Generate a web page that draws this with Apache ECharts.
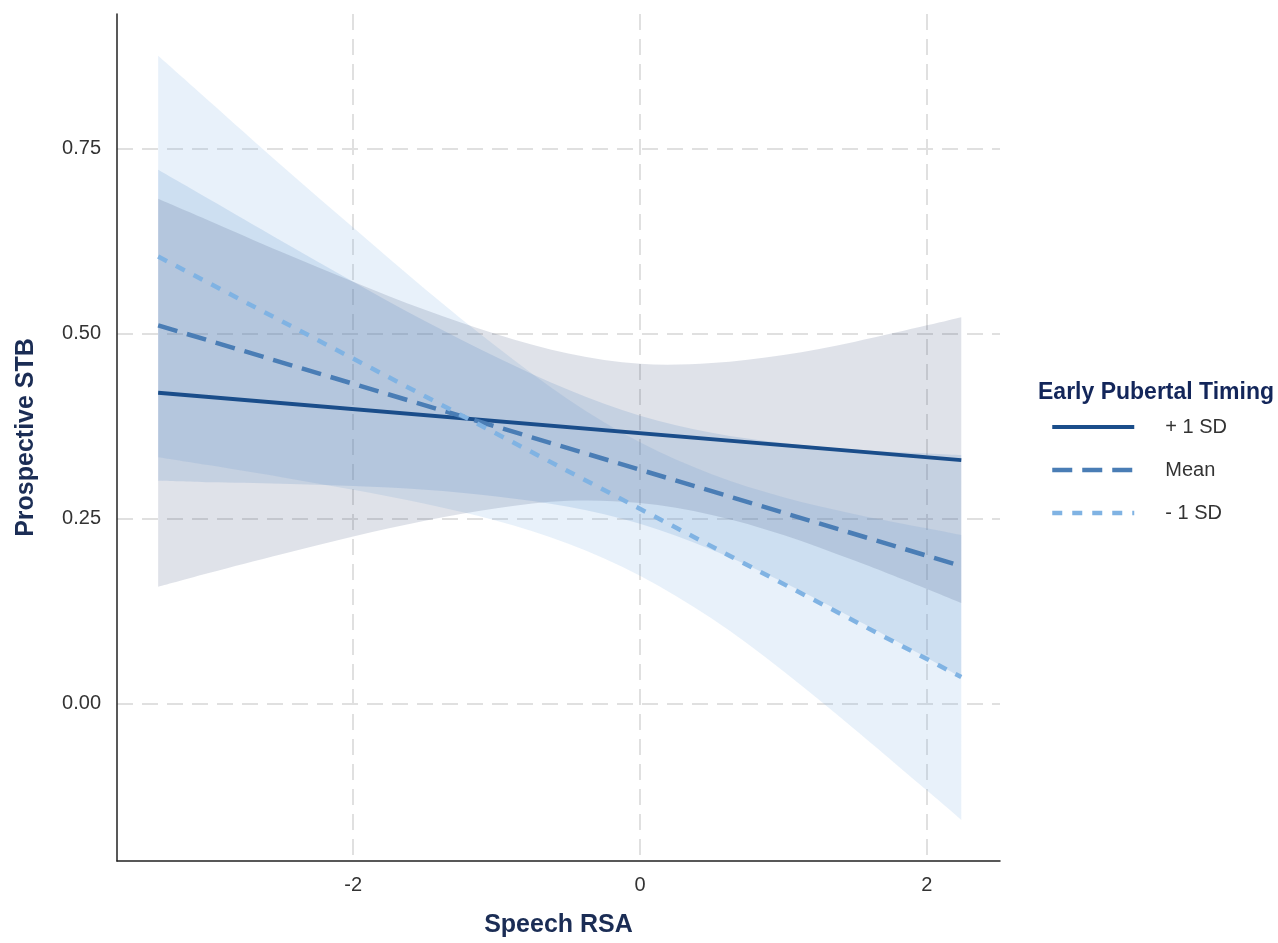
<!DOCTYPE html>
<html>
<head>
<meta charset="utf-8">
<title>Prospective STB by Speech RSA</title>
<script src="https://cdn.jsdelivr.net/npm/echarts@6/dist/echarts.min.js"></script>
<style>
  html, body { margin: 0; padding: 0; background: #ffffff; }
  #chart { width: 1278px; height: 943px; }
</style>
</head>
<body>
<div id="chart"></div>
<script>
// Speech RSA values at which the confidence bands are traced
const bandX = [-3.36, -3.0, -2.5, -2.0, -1.5, -1.0, -0.5, 0, 0.5, 1.0, 1.5, 2.0, 2.24];

// Confidence band for early pubertal timing +1 SD
const plusLower = [0.158, 0.177, 0.202, 0.226, 0.247, 0.264, 0.274, 0.271, 0.255, 0.228, 0.193, 0.155, 0.136];
const plusUpper = [0.682, 0.652, 0.610, 0.570, 0.532, 0.499, 0.473, 0.459, 0.460, 0.471, 0.489, 0.511, 0.522];

// Confidence band at the mean
const meanLower = [0.301, 0.299, 0.297, 0.294, 0.289, 0.280, 0.266, 0.243, 0.208, 0.164, 0.114, 0.062, 0.035];
const meanUpper = [0.721, 0.681, 0.625, 0.570, 0.517, 0.468, 0.424, 0.389, 0.366, 0.352, 0.343, 0.338, 0.336];

// Confidence band for -1 SD
const minusLower = [0.333, 0.322, 0.306, 0.289, 0.270, 0.247, 0.216, 0.173, 0.115, 0.044, -0.035, -0.117, -0.157];
const minusUpper = [0.875, 0.813, 0.727, 0.643, 0.560, 0.482, 0.411, 0.353, 0.310, 0.279, 0.256, 0.237, 0.228];

// Simple-slope fitted lines (end points)
const fitX = [-3.36, 2.24];
const plusFit = [0.420, 0.329];
const meanFit = [0.511, 0.186];
const minusFit = [0.604, 0.036];

// Axis ticks
const xTicks = [-2, 0, 2];
const yTicks = [0, 0.25, 0.5, 0.75];
const groupNames = ['+ 1 SD', 'Mean', '- 1 SD'];

const FONT = '"Liberation Sans", Arial, Helvetica, sans-serif';

function pairs(xs, ys) {
  return xs.map((x, i) => [x, ys[i]]);
}

// Smooth curve (Catmull-Rom as cubic Beziers) through pixel points
function curveThrough(p) {
  let s = '';
  for (let i = 0; i < p.length - 1; i++) {
    const p0 = p[Math.max(i - 1, 0)];
    const p1 = p[i];
    const p2 = p[i + 1];
    const p3 = p[Math.min(i + 2, p.length - 1)];
    const c1 = [p1[0] + (p2[0] - p0[0]) / 6, p1[1] + (p2[1] - p0[1]) / 6];
    const c2 = [p2[0] - (p3[0] - p1[0]) / 6, p2[1] - (p3[1] - p1[1]) / 6];
    s += ' C' + c1[0] + ' ' + c1[1] + ' ' + c2[0] + ' ' + c2[1] + ' ' + p2[0] + ' ' + p2[1];
  }
  return s;
}

// A confidence band: filled region between its lower and upper bounds
function bandSeries(id, lower, upper, fill) {
  return {
    id: id,
    type: 'custom',
    coordinateSystem: 'cartesian2d',
    silent: true,
    clip: false,
    z: 1,
    encode: { x: 0, y: [1, 2] },
    data: bandX.map((x, i) => [x, lower[i], upper[i]]),
    renderItem: function (params, api) {
      if (params.dataIndex !== 0) return null;
      const up = bandX.map((x, i) => api.coord([x, upper[i]]));
      const lo = bandX.map((x, i) => api.coord([x, lower[i]])).reverse();
      let d = 'M' + up[0][0] + ' ' + up[0][1] + curveThrough(up);
      d += ' L' + lo[0][0] + ' ' + lo[0][1] + curveThrough(lo) + ' Z';
      return {
        type: 'path',
        shape: { pathData: d },
        style: { fill: fill, stroke: null }
      };
    }
  };
}

function fitSeries(name, ys, color, type, width) {
  return {
    name: name,
    type: 'line',
    symbol: 'none',
    silent: true,
    lineStyle: { color: color, width: width, type: type, cap: 'butt' },
    itemStyle: { color: color },
    data: pairs(fitX, ys),
    z: 3
  };
}

const chart = echarts.init(document.getElementById('chart'), null, { renderer: 'canvas' });

chart.setOption({
  backgroundColor: '#ffffff',
  animation: false,
  textStyle: { fontFamily: FONT },
  title: {
    text: 'Early Pubertal Timing',
    left: 1038,
    top: 381,
    padding: 0,
    textStyle: { fontFamily: FONT, fontSize: 23, fontWeight: 'bold', color: '#13265a' }
  },
  legend: {
    data: groupNames,
    orient: 'vertical',
    left: 1050,
    top: 417,
    padding: 0,
    itemWidth: 82,
    itemHeight: 20,
    itemGap: 23,
    selectedMode: false,
    itemStyle: { color: 'transparent', borderColor: 'transparent', borderWidth: 0, opacity: 0 },
    lineStyle: { width: 'inherit', type: 'inherit', opacity: 1 },
    textStyle: { fontFamily: FONT, fontSize: 20, color: '#333333', padding: [0, 0, 0, 26] }
  },
  grid: { left: 117, right: 278, top: 14, bottom: 78, containLabel: false },
  xAxis: {
    type: 'value',
    min: -3.647,
    max: 2.510,
    name: 'Speech RSA',
    nameLocation: 'middle',
    nameGap: 52,
    nameTextStyle: { fontFamily: FONT, fontSize: 25, fontWeight: 'bold', color: '#1b2d55' },
    axisLine: { show: true, onZero: false, lineStyle: { color: '#222222', width: 1.5 } },
    axisTick: { show: false, customValues: xTicks },
    axisLabel: {
      customValues: xTicks,
      margin: 14,
      fontSize: 20,
      color: '#333333',
      fontFamily: FONT,
      formatter: v => String(v)
    },
    splitLine: { show: true, lineStyle: { color: '#e0e0e0', width: 2, type: [16, 9] } }
  },
  yAxis: {
    type: 'value',
    min: -0.2124,
    max: 0.9315,
    name: 'Prospective STB',
    nameLocation: 'middle',
    nameRotate: 90,
    nameGap: 78,
    nameTextStyle: { fontFamily: FONT, fontSize: 25, fontWeight: 'bold', color: '#1b2d55' },
    axisLine: { show: true, onZero: false, lineStyle: { color: '#222222', width: 1.5 } },
    axisTick: { show: false, customValues: yTicks },
    axisLabel: {
      customValues: yTicks,
      margin: 16,
      fontSize: 20,
      color: '#333333',
      fontFamily: FONT,
      formatter: v => v.toFixed(2)
    },
    splitLine: { show: true, lineStyle: { color: '#e0e0e0', width: 2, type: [16, 9] } }
  },
  series: [
    bandSeries('minus-band', minusLower, minusUpper, 'rgba(110,165,225,0.16)'),
    bandSeries('mean-band', meanLower, meanUpper, 'rgba(70,130,200,0.16)'),
    bandSeries('plus-band', plusLower, plusUpper, 'rgba(40,62,105,0.15)'),
    fitSeries(groupNames[0], plusFit, '#1a4d8a', 'solid', 4),
    fitSeries(groupNames[1], meanFit, '#4a7db5', [20, 10], 4.5),
    fitSeries(groupNames[2], minusFit, '#80b3e3', [10, 10], 4.5)
  ]
});
</script>
</body>
</html>
